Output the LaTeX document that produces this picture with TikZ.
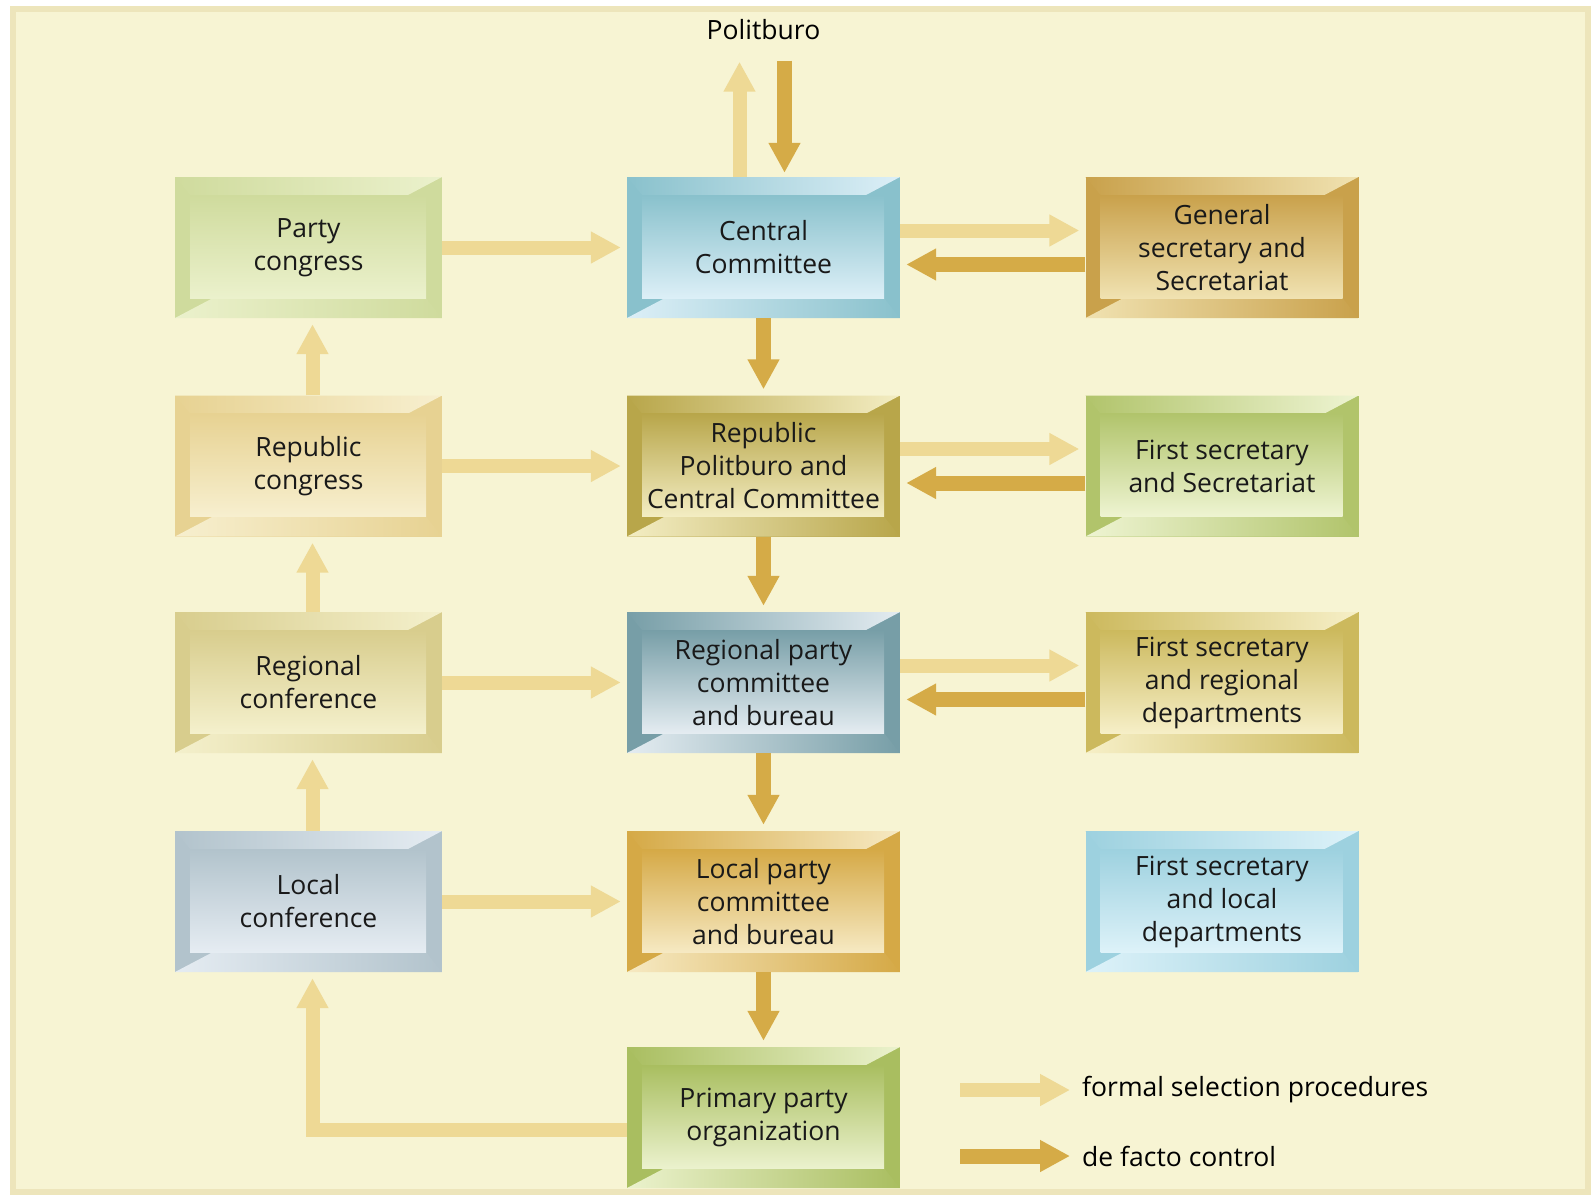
\documentclass[tikz,border=0pt]{standalone}
\usepackage{fontspec}
\setmainfont{Open Sans}
\usetikzlibrary{positioning,calc,arrows.meta}

\definecolor{bgfill}{HTML}{F7F4D3}
\definecolor{bgedge}{HTML}{EDE5BB}
\definecolor{formalc}{HTML}{EED995}
\definecolor{controlc}{HTML}{D5AB47}
\definecolor{pcD}{HTML}{CFDB9D}\definecolor{pcL}{HTML}{EBF1CC}
\definecolor{ccD}{HTML}{89C1CC}\definecolor{ccL}{HTML}{DCEFF7}
\definecolor{gsD}{HTML}{C9A14B}\definecolor{gsL}{HTML}{F0E2B1}
\definecolor{rcD}{HTML}{E7D292}\definecolor{rcL}{HTML}{F7EFCF}
\definecolor{rpD}{HTML}{B8A64A}\definecolor{rpL}{HTML}{F3EDC3}
\definecolor{fsD}{HTML}{B1C46B}\definecolor{fsL}{HTML}{EEF4D2}
\definecolor{rgD}{HTML}{D8CD8D}\definecolor{rgL}{HTML}{F4F0CC}
\definecolor{rbD}{HTML}{779EA7}\definecolor{rbL}{HTML}{E4ECF1}
\definecolor{frD}{HTML}{CCB95D}\definecolor{frL}{HTML}{F6EFC7}
\definecolor{lcD}{HTML}{B2C3CC}\definecolor{lcL}{HTML}{E5ECF2}
\definecolor{lpD}{HTML}{D5A946}\definecolor{lpL}{HTML}{F6E9C2}
\definecolor{flD}{HTML}{9DD1DF}\definecolor{flL}{HTML}{DDF2F9}
\definecolor{ppD}{HTML}{A9BE60}\definecolor{ppL}{HTML}{EBF2CD}

\begin{document}
\begin{tikzpicture}[x=1pt, y=-1pt, font=\fontsize{26.5}{33}\selectfont,
   bx/.style 2 args={fill=#1, inner sep=0pt, align=center, text=black!90,
     minimum width=273pt, minimum height=141pt,
     path picture={
       \coordinate (nw) at (path picture bounding box.north west);
       \coordinate (ne) at (path picture bounding box.north east);
       \coordinate (sw) at (path picture bounding box.south west);
       \coordinate (se) at (path picture bounding box.south east);
       \shade[left color=#1, right color=#2] (nw) -- (ne) -- ([xshift=-34pt,yshift=-18pt]ne) -- ([xshift=15pt,yshift=-18pt]nw) -- cycle;
       \shade[left color=#2, right color=#1] (sw) -- ([xshift=38pt,yshift=20pt]sw) -- ([xshift=-16pt,yshift=20pt]se) -- (se) -- cycle;
       \shade[top color=#1, bottom color=#2] ([xshift=15pt,yshift=20pt]sw) rectangle ([xshift=-16pt,yshift=-18pt]ne);
     }},
   lbx/.style={minimum width=267pt},
   formal/.style={draw=formalc, line width=14pt, -{Triangle[length=30pt,width=30pt]}, shorten >=6pt},
   control/.style={draw=controlc, line width=15pt, -{Triangle[length=30pt,width=30pt]}, shorten >=6pt}]
  \useasboundingbox (0,0) rectangle (1593,1197);
  \fill[bgedge] (10,6) rectangle (1591,1195);
  \fill[bgfill] (16,12) rectangle (1585,1189);

  % left column
  \node[bx={pcD}{pcL}, lbx] (party) at (308.5,247.5) {Party\\ congress};
  \node[bx={rcD}{rcL}, lbx] (repcong) at (308.5,466) {Republic\\ congress};
  \node[bx={rgD}{rgL}, lbx] (regconf) at (308.5,682.5) {Regional\\ conference};
  \node[bx={lcD}{lcL}, lbx] (localconf) at (308.5,901.5) {Local\\ conference};
  % centre column
  \node (polit) at (763.5,30) {Politburo};
  \node[bx={ccD}{ccL}] (central) at (763.5,247.5) {Central\\ Committee};
  \node[bx={rpD}{rpL}] (reppol) at (763.5,466) {Republic\\ Politburo and\\ Central Committee};
  \node[bx={rbD}{rbL}] (regcom) at (763.5,682.5) {Regional party\\ committee\\ and bureau};
  \node[bx={lpD}{lpL}] (localcom) at (763.5,901.5) {Local party\\ committee\\ and bureau};
  \node[bx={ppD}{ppL}] (primary) at (763.5,1117.5) {Primary party\\ organization};
  % right column
  \node[bx={gsD}{gsL}] (gensec) at (1222,247.5) {General\\ secretary and\\ Secretariat};
  \node[bx={fsD}{fsL}] (firstsec) at (1222,466) {First secretary\\ and Secretariat};
  \node[bx={frD}{frL}] (firstreg) at (1222,682.5) {First secretary\\ and regional\\ departments};
  \node[bx={flD}{flL}] (firstloc) at (1222,901.5) {First secretary\\ and local\\ departments};

  % formal selection
  \draw[formal] (party) -- (central);
  \draw[formal] (repcong) -- (reppol);
  \draw[formal] (regconf) -- (regcom);
  \draw[formal] (localconf) -- (localcom);
  \draw[formal] ([xshift=4pt]repcong.north) -- ([xshift=4pt]party.south);
  \draw[formal] ([xshift=4pt]regconf.north) -- ([xshift=4pt]repcong.south);
  \draw[formal] ([xshift=4pt]localconf.north) -- ([xshift=4pt]regconf.south);
  \draw[formal] ([yshift=-12pt]primary.west) -| ([xshift=4pt]localconf.south);
  \draw[formal] ([yshift=17pt]central.east) -- ([yshift=17pt]gensec.west);
  \draw[formal] ([yshift=17pt]reppol.east) -- ([yshift=17pt]firstsec.west);
  \draw[formal] ([yshift=17pt]regcom.east) -- ([yshift=17pt]firstreg.west);
  \draw[formal] ([xshift=-24pt]central.north) -- ([xshift=-24pt,yshift=-12pt]polit.south);

  % de facto control
  \draw[control, shorten >=4pt] ([xshift=21pt,yshift=-17pt]polit.south) -- ([xshift=21pt]central.north);
  \draw[control] (central) -- (reppol);
  \draw[control] (reppol) -- (regcom);
  \draw[control] (regcom) -- (localcom);
  \draw[control] (localcom) -- (primary);
  \draw[control] ([yshift=-17pt]gensec.west) -- ([yshift=-17pt]central.east);
  \draw[control] ([yshift=-17pt]firstsec.west) -- ([yshift=-17pt]reppol.east);
  \draw[control] ([yshift=-17pt]firstreg.west) -- ([yshift=-17pt]regcom.east);

  % legend
  \coordinate (lgf) at (960,1090);
  \node[anchor=west, inner sep=0pt] (lgformal) at (1082,1090) {formal selection procedures};
  \draw[formal, shorten >=12pt] (lgf) -- (lgformal.west);
  \coordinate (lgc) at (960,1156);
  \node[anchor=west, inner sep=0pt] (lgcontrol) at (1082,1156) {de facto control};
  \draw[control, shorten >=12pt] (lgc) -- (lgcontrol.west);
\end{tikzpicture}
\end{document}
